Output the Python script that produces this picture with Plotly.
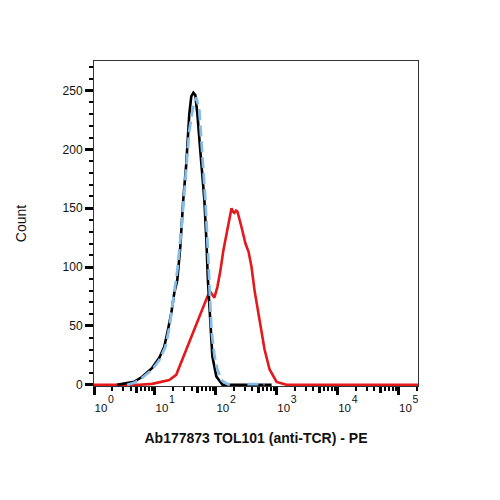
import plotly.graph_objects as go

# ---- data (fluorescence intensity vs. count) ----
red_x = [1, 5.5, 9.04, 12.7, 17.2, 22.4, 27.1, 34.0, 44.4, 53.7, 62.5, 72.8, 81.5, 94.8, 106, 119, 133,
         155, 181, 192, 202, 215, 227, 264, 307, 345, 386, 433, 485, 543, 632, 764, 996, 1456, 209000]
red_y = [0, 0, 0.8, 2.5, 4, 8.5, 19, 32, 47, 58, 65, 75, 79, 74, 83, 97, 114,
         133, 150, 147, 146, 148, 147, 134, 120, 113, 100, 80, 65, 48, 30, 13, 2.5, 0, 0]

black_x = [2.39, 2.89, 4.56, 6.18, 9.04, 11.8, 14.2, 16.0, 18.6, 20.8, 23.3, 26.1, 29.2, 32.8, 36.7,
           39.6, 42.8, 46.1, 49.8, 57.9, 64.9, 70.0, 74.0, 81.5, 87.9, 102, 129, 824]
black_y = [0, 0.8, 2.5, 6.8, 14.4, 22.9, 32.2, 44.1, 61, 78, 89, 117, 157, 188, 230,
           245, 248, 246, 230, 188, 157, 123, 90, 53, 24, 7, 0, 0]

blue_x = [3.5, 4.56, 6.18, 9.04, 11.8, 14.8, 17.2, 20.0, 23.3, 27.1, 31.6, 36.7, 42.8, 47.9, 53.7,
          60.1, 67.4, 75.5, 84.7, 94.8, 106, 124, 150, 170, None, 330, 630]
blue_y = [0, 1.7, 6, 13, 21, 32, 48, 72, 97, 131, 174, 216, 237, 244, 233,
          199, 157, 106, 47, 25, 13, 4, 1, 0, None, 0.6, 0.6]

x_tickvals = [1, 10, 100, 1000, 10000, 100000]
x_base_text = ["10"] * 6
x_exponents = ["0", "1", "2", "3", "4", "5"]
x_minor = [m * 10 ** d for d in range(0, 6) for m in (2, 3, 4, 6, 7, 8, 9)]
x_mid = [5 * 10 ** d for d in range(0, 6)]
y_tickvals = [0, 50, 100, 150, 200, 250]

FONT = "Liberation Sans, Arial, sans-serif"
XRANGE = [0, 5.32]
TXT = "#111111"

fig = go.Figure()
fig.add_trace(go.Scatter(x=red_x, y=red_y, mode="lines",
                         line=dict(color="#e3191c", width=2.6)))
fig.add_trace(go.Scatter(x=black_x, y=black_y, mode="lines",
                         line=dict(color="#000000", width=2.6)))
fig.add_trace(go.Scatter(x=blue_x, y=blue_y, mode="lines", connectgaps=False,
                         line=dict(color="#86bde8", width=2.8, dash="11px,5px")))
# helper axes: mid-decade (5x) ticks and the exponent part of the decade labels
for ax in ("x2", "x3"):
    fig.add_trace(go.Scatter(x=[1], y=[0], xaxis=ax, yaxis="y", mode="markers",
                             marker=dict(opacity=0), hoverinfo="skip"))

fig.update_layout(
    width=500, height=500,
    margin=dict(l=94, r=82, t=61, b=114),
    paper_bgcolor="white", plot_bgcolor="white",
    showlegend=False,
    font=dict(family=FONT, color=TXT),
    xaxis=dict(
        type="log", range=XRANGE,
        tickmode="array", tickvals=x_tickvals, ticktext=x_base_text,
        ticks="outside", ticklen=8, tickwidth=3, tickcolor="black",
        tickfont=dict(size=11.5, family=FONT, color=TXT),
        ticklabelshift=7, ticklabelstandoff=3,
        minor=dict(tickmode="array", tickvals=x_minor, ticks="outside", ticklen=4,
                   tickwidth=1.5, tickcolor="black", showgrid=False),
        showline=True, linecolor="#333333", linewidth=1, mirror=True,
        showgrid=False, zeroline=False,
        title=dict(text="<b>Ab177873 TOL101 (anti-TCR) - PE</b>",
                   font=dict(size=14, family=FONT, color=TXT), standoff=20),
    ),
    xaxis2=dict(type="log", range=XRANGE, overlaying="x", anchor="y", side="bottom",
                tickmode="array", tickvals=x_mid, ticks="outside", ticklen=6,
                tickwidth=2.5, tickcolor="black", showticklabels=False,
                showgrid=False, zeroline=False, showline=False),
    xaxis3=dict(type="log", range=XRANGE, overlaying="x", anchor="y", side="bottom",
                tickmode="array", tickvals=x_tickvals, ticktext=x_exponents,
                ticks="outside", ticklen=8, tickcolor="rgba(0,0,0,0)",
                tickfont=dict(size=10.5, family=FONT, color=TXT),
                ticklabelshift=17, ticklabelstandoff=-5,
                showgrid=False, zeroline=False, showline=False),
    yaxis=dict(
        range=[-1, 275],
        tickmode="array", tickvals=y_tickvals,
        ticks="outside", ticklen=8, tickwidth=3, tickcolor="black",
        tickfont=dict(size=12, family=FONT, color=TXT),
        minor=dict(dtick=10, tick0=0, ticks="outside", ticklen=4, tickwidth=1.5,
                   tickcolor="black", showgrid=False),
        showline=True, linecolor="#333333", linewidth=1, mirror=True,
        showgrid=False, zeroline=False,
        title=dict(text="Count", font=dict(size=14, family=FONT, color=TXT), standoff=32),
    ),
)

fig.write_html("out.html")
